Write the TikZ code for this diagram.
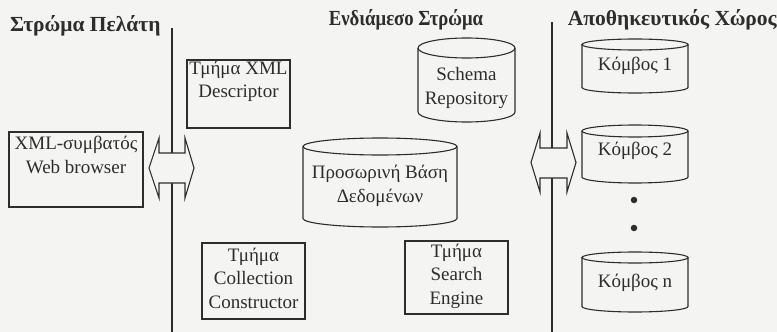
\documentclass[tikz,border=0pt]{standalone}
\usepackage{fontspec}
\setmainfont{Liberation Serif}
\definecolor{paper}{RGB}{244,244,242}
\definecolor{ink}{RGB}{45,45,45}

% cylinder: name, x1, y1 (top), x2, y2 (bottom), cap radius, text y, text
\newcommand\drum[8]{%
  \pgfmathsetmacro\dcx{(#2+#4)/2}%
  \pgfmathsetmacro\drx{(#4-#2)/2}%
  \draw[outline, fill=paper] (#2,{-(#3)-(#6)}) -- (#2,{-(#5)+(#6)})
    arc[start angle=180, end angle=360, x radius=\drx, y radius=#6]
    -- (#4,{-(#3)-(#6)});
  \draw[outline] (\dcx,{-(#3)-(#6)}) ellipse[x radius=\drx, y radius=#6];
  \node[lbl] (#1) at (\dcx,-#7) {#8};
}

% block double arrow: left tip, left head back, right head back, right tip,
% head top, shaft top, shaft bottom, head bottom
\newcommand\dblarrow[8]{%
  \draw[outline, fill=paper, line join=miter]
    (#1,{-((#5)+(#8))/2}) -- (#2,-#5) -- (#2,-#6) -- (#3,-#6) -- (#3,-#5)
    -- (#4,{-((#5)+(#8))/2}) -- (#3,-#8) -- (#3,-#7) -- (#2,-#7) -- (#2,-#8)
    -- cycle;
}

\begin{document}
\begin{tikzpicture}[x=1pt, y=1pt,
  every node/.style={text=ink},
  lbl/.style={font=\fontsize{19}{23.5}\selectfont, align=center, inner sep=0pt},
  ttl/.style={font=\bfseries\fontsize{21.5}{24}\selectfont, inner sep=0pt},
  frame/.style={draw=ink, line width=1.1pt, inner sep=0pt},
  outline/.style={draw=ink, line width=1.1pt},
  dot/.style={circle, fill=ink, inner sep=0pt, minimum size=6.5pt}]

\fill[paper] (0,0) rectangle (777,-332);
\useasboundingbox (0,0) rectangle (777,-332);

% layer headings
\node[ttl, anchor=west] (t1) at (10,-26) {Στρώμα Πελάτη};
\node[ttl] (t2) at (406,-20) {\scalebox{0.87}[1]{Ενδιάμεσο Στρώμα}};
\node[ttl, anchor=east] (t3) at (777,-20) {Αποθηκευτικός Χώρος};

% layer boundaries
\coordinate (b1top) at (172,-28);
\coordinate (b1bot) at (172,-332);
\coordinate (b2top) at (552,-22);
\coordinate (b2bot) at (552,-332);
\draw[outline] (b1top) -- (b1bot);
\draw[outline] (b2top) -- (b2bot);

% client layer
\node[frame, minimum width=134pt, minimum height=75pt] (browser) at (76,-169.5) {};
\node[lbl] (browsertxt) at (76,-155) {XML-συμβατός\\Web browser};

% middle layer
\node[frame, minimum width=103pt, minimum height=68pt] (desc) at (238.5,-94) {};
\node[lbl] (desctxt) at (238.5,-81.5) {Τμήμα XML\\Descriptor};

\node[frame, minimum width=103pt, minimum height=76pt] (coll) at (253.5,-281) {};
\node[lbl] (colltxt) at (253.5,-278) {Τμήμα\\Collection\\Constructor};

\node[frame, minimum width=103pt, minimum height=73pt] (search) at (456.5,-277.5) {};
\node[lbl] (searchtxt) at (456.5,-276) {Τμήμα\\Search\\Engine};

\drum{schema}{418}{38}{515}{122}{10}{88}{Schema\\Repository}
\drum{tempdb}{303}{138}{457}{227}{8.5}{186}{Προσωρινή Βάση\\Δεδομένων}

% storage layer
\drum{node1}{582}{39}{688}{93}{5.5}{66}{Κόμβος 1}
\drum{node2}{582}{125}{688}{183}{6}{151}{Κόμβος 2}
\drum{noden}{582}{252}{688}{312}{5.5}{283}{Κόμβος n}
\node[dot] (dot1) at (634,-200) {};
\node[dot] (dot2) at (634,-228) {};

% exchange between layers
\dblarrow{149}{159}{185}{194}{138}{153}{183}{198}
\dblarrow{531}{540}{567}{576}{133}{148}{178}{192}

\end{tikzpicture}
\end{document}
